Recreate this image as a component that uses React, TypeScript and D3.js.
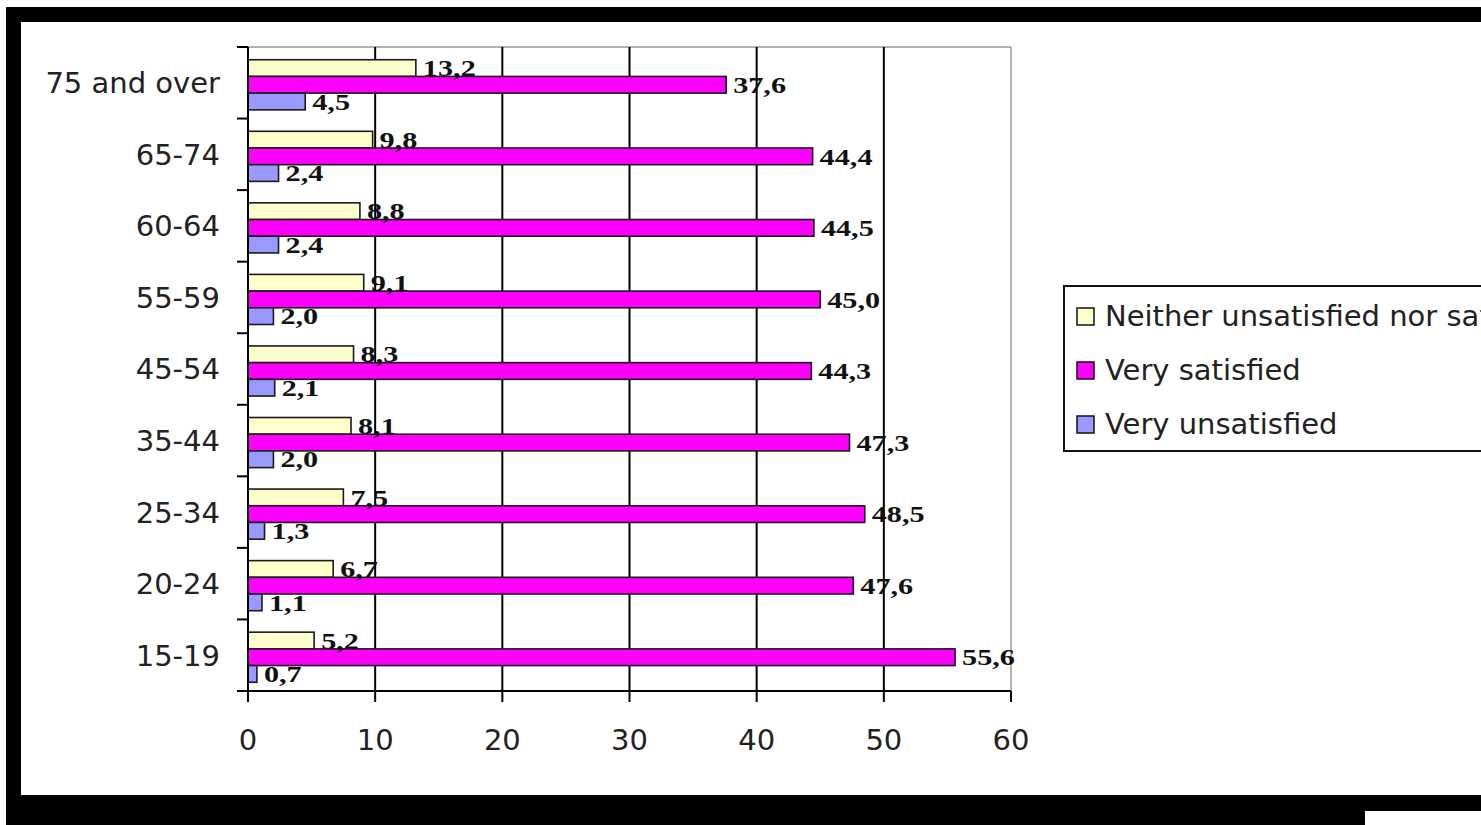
import React from 'react'
import * as d3 from 'd3'

const ageGroups = ['75 and over', '65-74', '60-64', '55-59', '45-54', '35-44', '25-34', '20-24', '15-19']
const seriesNames = ['Neither unsatisfied nor satisfied', 'Very satisfied', 'Very unsatisfied']
const seriesColors = ['#ffffcc', '#ff00ff', '#9999ff']

const neither = [13.2, 9.8, 8.8, 9.1, 8.3, 8.1, 7.5, 6.7, 5.2]
const verySatisfied = [37.6, 44.4, 44.5, 45.0, 44.3, 47.3, 48.5, 47.6, 55.6]
const veryUnsatisfied = [4.5, 2.4, 2.4, 2.0, 2.1, 2.0, 1.3, 1.1, 0.7]
const xTicks = [0, 10, 20, 30, 40, 50, 60]

const W = 1481
const H = 825
const plot = { left: 248, right: 1011, top: 47, bottom: 691 }
const sans = '"DejaVu Sans", Verdana, sans-serif'
const serif = '"Liberation Serif", "Times New Roman", serif'

const fmt = (v: number) => v.toFixed(1).replace('.', ',')

export default function App() {
  const xScale = d3.scaleLinear().domain([0, 60]).range([plot.left, plot.right])

  const yScale = d3.scaleBand<string>()
    .domain(ageGroups)
    .range([plot.top, plot.bottom])
    .paddingInner(0.3)
    .paddingOuter(0.15)

  const inner = d3.scaleBand<string>()
    .domain(seriesNames)
    .range([0, yScale.bandwidth()])

  const step = yScale.step()
  const groupNudge = 2
  const values = [neither, verySatisfied, veryUnsatisfied]

  // boundaries between categories for the small ticks on the left axis
  const catTicks = d3.range(ageGroups.length + 1).map(i => plot.top + i * step)

  return (
    <div style={{ position: 'fixed', left: 0, top: 0 }}>
      <svg width={W} height={H} style={{ display: 'block', background: '#fff' }}>
        {/* plot frame */}
        <line x1={plot.left} x2={plot.right} y1={plot.top} y2={plot.top} stroke="#999" strokeWidth={1.5} />
        <line x1={plot.right} x2={plot.right} y1={plot.top} y2={plot.bottom} stroke="#999" strokeWidth={1.5} />

        {/* vertical gridlines */}
        {xTicks.slice(1, -1).map(t => (
          <line key={'g' + t} x1={xScale(t)} x2={xScale(t)} y1={plot.top} y2={plot.bottom} stroke="#000" strokeWidth={2} />
        ))}

        {/* bars */}
        {seriesNames.map((s, si) => (
          <g key={s}>
            {ageGroups.map((cat, ci) => {
              const y = (yScale(cat) as number) + (inner(s) as number) + groupNudge
              return (
                <rect key={cat}
                  x={xScale(0)} y={y}
                  width={xScale(values[si][ci]) - xScale(0)}
                  height={inner.bandwidth()}
                  fill={seriesColors[si]} stroke="#1a1a1a" strokeWidth={1.6} />
              )
            })}
          </g>
        ))}

        {/* value labels (wide bold serif, as in the original) */}
        {seriesNames.map((s, si) => (
          <g key={'l' + s}>
            {ageGroups.map((cat, ci) => {
              const y = (yScale(cat) as number) + (inner(s) as number) + groupNudge + inner.bandwidth() / 2
              const x = xScale(values[si][ci]) + 7
              return (
                <text key={cat} transform={`translate(${x},${y}) scale(1.26,1)`} dy="0.34em"
                  fontFamily={serif} fontWeight="bold" fontSize={24} fill="#111">
                  {fmt(values[si][ci])}
                </text>
              )
            })}
          </g>
        ))}

        {/* left axis */}
        <line x1={plot.left} x2={plot.left} y1={plot.top} y2={plot.bottom} stroke="#000" strokeWidth={2} />
        {catTicks.map((y, i) => (
          <line key={'ct' + i} x1={plot.left - 11} x2={plot.left} y1={y} y2={y} stroke="#000" strokeWidth={2} />
        ))}
        {ageGroups.map(cat => (
          <text key={'c' + cat} x={220} y={(yScale(cat) as number) + yScale.bandwidth() / 2} dy="0.36em"
            textAnchor="end" fontFamily={sans} fontSize={29} fill="#222">
            {cat}
          </text>
        ))}

        {/* bottom axis */}
        <line x1={plot.left} x2={plot.right} y1={plot.bottom} y2={plot.bottom} stroke="#000" strokeWidth={2} />
        {xTicks.map(t => (
          <g key={'x' + t}>
            <line x1={xScale(t)} x2={xScale(t)} y1={plot.bottom} y2={plot.bottom + 11} stroke="#000" strokeWidth={2} />
            <text x={xScale(t)} y={750} textAnchor="middle" fontFamily={sans} fontSize={29} fill="#222">{t}</text>
          </g>
        ))}

        {/* legend (runs off the right edge, as in the original) */}
        <rect x={1064} y={286} width={500} height={165} fill="#fff" stroke="#111" strokeWidth={2} />
        {seriesNames.map((s, i) => {
          const cy = 316 + i * 54
          return (
            <g key={'lg' + s}>
              <rect x={1077} y={cy - 8} width={17} height={17} fill={seriesColors[i]} stroke="#111" strokeWidth={1.5} />
              <text x={1105} y={cy} dy="0.36em" fontFamily={sans} fontSize={29} fill="#222">{s}</text>
            </g>
          )
        })}

        {/* black frame around the picture */}
        <rect x={6} y={7} width={W - 6} height={15} fill="#000" />
        <rect x={6} y={7} width={15} height={H - 7} fill="#000" />
        <rect x={6} y={795} width={W - 6} height={16} fill="#000" />
        <rect x={6} y={811} width={1359} height={14} fill="#000" />
      </svg>
    </div>
  )
}
